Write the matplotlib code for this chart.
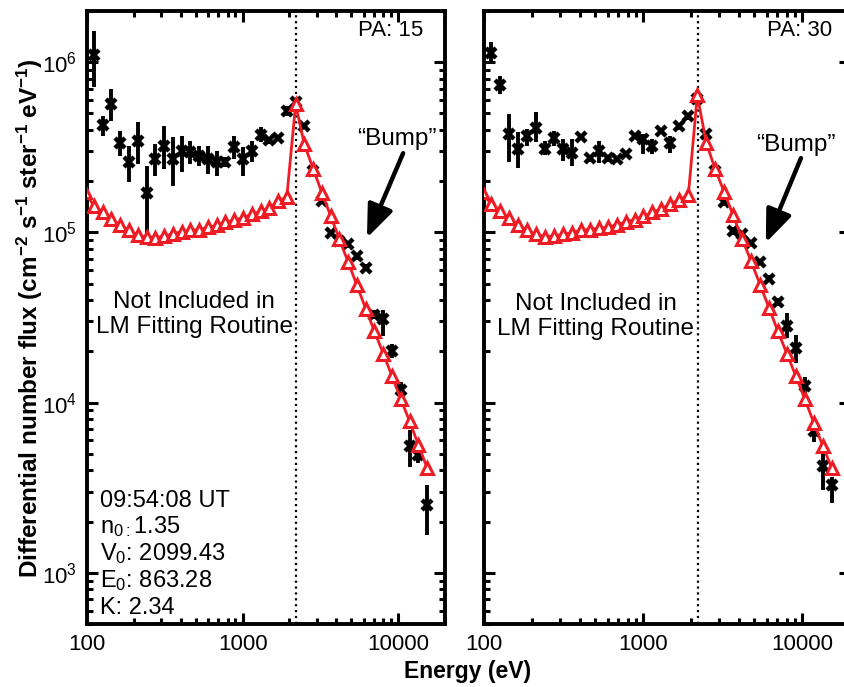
import matplotlib
matplotlib.use("Agg")
import matplotlib.pyplot as plt
from matplotlib.ticker import LogLocator, FixedLocator, NullFormatter

plt.rcParams["font.family"] = ["Liberation Sans", "DejaVu Sans"]
plt.rcParams["mathtext.fontset"] = "custom"
plt.rcParams["mathtext.rm"] = "Liberation Sans"
plt.rcParams["mathtext.it"] = "Liberation Sans"
plt.rcParams["mathtext.bf"] = "Liberation Sans:bold"

# energy channels (eV)
energy = [110.9, 126.2, 143.7, 163.7, 186.3, 212.1, 241.5, 274.9, 313.0, 356.5,
          405.9, 462.0, 526.0, 598.9, 681.9, 776.2, 883.8, 1006, 1146, 1304,
          1485, 1691, 1925, 2192, 2495, 2841, 3234, 3682, 4193, 4773,
          5435, 6187, 7045, 8021, 9131, 10397, 11837, 13478, 15345]
model_energy = [97.4] + energy
cutoff_energy = 2200

# PA 15
pa15_flux = [1.11e6, 4.26e5, 5.66e5, 3.34e5, 2.58e5, 3.43e5, 1.70e5, 2.69e5, 3.21e5, 2.69e5,
             2.99e5, 2.96e5, 2.80e5, 2.69e5, 2.58e5, 2.58e5, 3.16e5, 2.69e5, 2.99e5, 3.72e5,
             3.48e5, 3.57e5, 5.15e5, 5.82e5, 4.22e5, 2.30e5, 1.53e5, 9.96e4, 8.89e4, 8.50e4,
             7.26e4, 6.19e4, 3.29e4, 3.08e4, 2.00e4, 1.19e4, 5.53e3, 4.94e3, 2.51e3]
pa15_hi = [1.52e6, 4.81e5, 6.93e5, 3.93e5, 3.21e5, 4.44e5, 2.44e5, 3.29e5, 4.21e5, 3.62e5,
           3.67e5, 3.43e5, 3.21e5, 3.21e5, 2.99e5, 2.76e5, 3.67e5, 3.16e5, 3.43e5, 4.15e5,
           3.65e5, 3.70e5, 5.50e5, 6.00e5, 4.40e5, 2.40e5, 1.60e5, 1.04e5, 9.30e4, 8.90e4,
           7.60e4, 6.50e4, 3.50e4, 3.52e4, 2.20e4, 1.33e4, 6.93e3, 5.82e3, 3.30e3]
pa15_lo = [7.13e5, 3.67e5, 4.50e5, 2.80e5, 1.97e5, 2.51e5, 9.35e4, 2.14e5, 2.35e5, 1.87e5,
           2.25e5, 2.51e5, 2.44e5, 2.19e5, 2.14e5, 2.41e5, 2.69e5, 2.14e5, 2.58e5, 3.38e5,
           3.32e5, 3.44e5, 4.80e5, 5.60e5, 4.05e5, 2.20e5, 1.46e5, 9.50e4, 8.50e4, 8.10e4,
           6.90e4, 5.90e4, 3.10e4, 2.45e4, 1.82e4, 1.07e4, 4.21e3, 4.43e3, 1.67e3]
pa15_model = [1.72e5, 1.43e5, 1.32e5, 1.20e5, 1.10e5, 1.03e5, 9.64e4, 9.38e4, 9.31e4, 9.51e4,
              9.82e4, 1.01e5, 1.03e5, 1.04e5, 1.07e5, 1.10e5, 1.15e5, 1.18e5, 1.22e5, 1.28e5,
              1.33e5, 1.40e5, 1.52e5, 1.62e5, 5.66e5, 3.29e5, 2.37e5, 1.71e5, 1.25e5, 9.10e4,
              6.68e4, 4.88e4, 3.56e4, 2.62e4, 1.94e4, 1.43e4, 1.05e4, 7.77e3, 5.66e3, 4.13e3]

# PA 30
pa30_flux = [1.14e6, 7.33e5, 3.77e5, 3.08e5, 3.68e5, 4.13e5, 3.08e5, 3.61e5, 3.08e5, 2.94e5,
             3.65e5, 2.72e5, 3.01e5, 2.72e5, 2.69e5, 2.88e5, 3.68e5, 3.52e5, 3.22e5, 3.94e5,
             3.34e5, 4.21e5, 4.81e5, 6.05e5, 3.77e5, 2.30e5, 1.50e5, 1.02e5, 9.73e4, 8.61e4,
             6.68e4, 5.36e4, 3.89e4, 2.81e4, 2.10e4, 1.25e4, 6.77e3, 4.22e3, 3.30e3]
pa30_hi = [1.31e6, 8.30e5, 4.94e5, 3.87e5, 4.04e5, 5.08e5, 3.44e5, 3.94e5, 3.52e5, 3.52e5,
           3.80e5, 2.85e5, 3.44e5, 2.85e5, 2.80e5, 3.00e5, 3.85e5, 3.77e5, 3.52e5, 4.10e5,
           3.68e5, 4.40e5, 5.00e5, 6.30e5, 3.95e5, 2.42e5, 1.58e5, 1.07e5, 1.02e5, 9.00e4,
           7.00e4, 5.60e4, 4.10e4, 3.38e4, 2.51e4, 1.42e4, 7.94e3, 5.30e3, 3.67e3]
pa30_lo = [9.95e5, 6.48e5, 2.58e5, 2.38e5, 3.22e5, 3.38e5, 2.84e5, 3.22e5, 2.62e5, 2.45e5,
           3.50e5, 2.60e5, 2.57e5, 2.60e5, 2.58e5, 2.76e5, 3.52e5, 2.88e5, 2.88e5, 3.78e5,
           2.94e5, 4.00e5, 4.60e5, 5.80e5, 3.60e5, 2.20e5, 1.43e5, 9.70e4, 9.30e4, 8.20e4,
           6.40e4, 5.10e4, 3.70e4, 2.41e4, 1.72e4, 1.11e4, 5.90e3, 3.08e3, 2.58e3]
pa30_model = [1.72e5, 1.46e5, 1.33e5, 1.22e5, 1.11e5, 1.03e5, 9.73e4, 9.44e4, 9.51e4, 9.73e4,
              9.96e4, 1.03e5, 1.04e5, 1.06e5, 1.07e5, 1.11e5, 1.15e5, 1.19e5, 1.25e5, 1.31e5,
              1.38e5, 1.47e5, 1.56e5, 1.65e5, 6.40e5, 3.37e5, 2.35e5, 1.73e5, 1.26e5, 9.18e4,
              6.78e4, 4.94e4, 3.61e4, 2.62e4, 1.94e4, 1.43e4, 1.05e4, 7.60e3, 5.58e3, 4.13e3]

fit_info = ["09:54:08 UT", r"n$_{0:}$1.35", r"V$_0$: 2099.43", r"E$_0$: 863.28", "K: 2.34"]

RED = "#ee1c25"


def plot_panel(ax, flux, lo, hi, model, pa, bump_text, bump_tip, bump_tail, note_x):
    yerr = [[f - l for f, l in zip(flux, lo)], [h - f for f, h in zip(flux, hi)]]
    ax.errorbar(energy, flux, yerr=yerr, fmt="x", color="black", ms=7.5, mew=3.2,
                elinewidth=2.8, capsize=0, zorder=3)
    ax.plot(model_energy, model, "-^", color=RED, lw=2.0, ms=9, mew=2.2,
            mfc="white", mec=RED, zorder=4)
    ax.axvline(cutoff_energy, color="black", ls=":", lw=1.6, zorder=2)

    ax.set_xscale("log")
    ax.set_yscale("log")
    ax.set_xlim(100, 20000)
    ax.set_ylim(500, 2e6)
    ax.xaxis.set_major_locator(FixedLocator([100, 1000, 10000]))
    ax.set_xticklabels(["100", "1000", "10000"])
    ax.xaxis.set_minor_locator(LogLocator(base=10, subs=range(2, 10)))
    ax.xaxis.set_minor_formatter(NullFormatter())
    ax.yaxis.set_major_locator(FixedLocator([1e3, 1e4, 1e5, 1e6]))
    ax.yaxis.set_minor_locator(LogLocator(base=10, subs=range(2, 10)))
    ax.yaxis.set_minor_formatter(NullFormatter())
    ax.tick_params(which="both", direction="in", top=True, right=True,
                   width=2.2, labelsize=16)
    ax.tick_params(which="major", length=8, pad=7)
    ax.tick_params(which="minor", length=4.5)
    for s in ax.spines.values():
        s.set_linewidth(2.8)

    ax.text(pa[1], 0.959, f"PA: {pa[0]}", transform=ax.transAxes,
            ha="right", va="baseline", fontsize=16)
    ax.text(note_x[0], note_x[1], "Not Included in", transform=ax.transAxes,
            ha="center", va="baseline", fontsize=17.5)
    ax.text(note_x[0], note_x[1] - 0.041, "LM Fitting Routine", transform=ax.transAxes,
            ha="center", va="baseline", fontsize=17.5)
    ax.text(bump_text[0], bump_text[1], "\u201cBump\u201d", transform=ax.transAxes,
            ha="center", va="baseline", fontsize=17.5)
    ax.annotate("", xy=bump_tip, xycoords="axes fraction",
                xytext=bump_tail, textcoords="axes fraction",
                arrowprops=dict(arrowstyle="-|>,head_length=1.0,head_width=0.4",
                                lw=3.2, color="black", mutation_scale=20,
                                shrinkA=0, shrinkB=0))


fig = plt.figure(figsize=(8.44, 6.87), dpi=100)
ax1 = fig.add_axes([87 / 844, 1 - 624 / 687, 358 / 844, 613 / 687])
ax2 = fig.add_axes([484 / 844, 1 - 624 / 687, 366 / 844, 613 / 687])

plot_panel(ax1, pa15_flux, pa15_lo, pa15_hi, pa15_model, (15, 0.939),
           (0.866, 0.781), (0.782, 0.630), (0.883, 0.768), (0.299, 0.515))
plot_panel(ax2, pa30_flux, pa30_lo, pa30_hi, pa30_model, (30, 0.951),
           (0.852, 0.772), (0.770, 0.622), (0.866, 0.760), (0.306, 0.512))

ax1.set_yticklabels([r"10$^3$", r"10$^4$", r"10$^5$", r"10$^6$"])
ax2.set_yticklabels([])

for i, line in enumerate(fit_info):
    ax1.text(0.036, 0.191 - i * 0.0435, line, transform=ax1.transAxes,
             ha="left", va="baseline", fontsize=17)

fig.text(468 / 844, 1 - 678 / 687, "Energy (eV)", ha="center", va="baseline",
         fontsize=16.5, fontweight="bold")
fig.text(30 / 844, 1 - 318 / 687, r"Differential number flux (cm$^{\mathbf{-2}}$ s$^{\mathbf{-1}}$ ster$^{\mathbf{-1}}$ eV$^{\mathbf{-1}}$)",
         rotation=90, ha="center", va="center", fontsize=17.5, fontweight="bold")

fig.savefig("out.png", dpi=100)
